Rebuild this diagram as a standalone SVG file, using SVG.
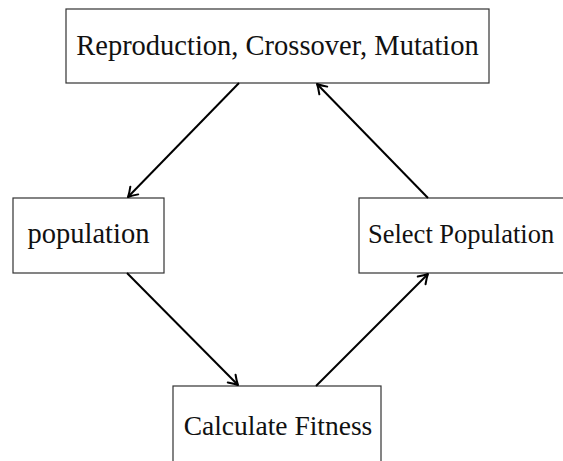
<svg xmlns="http://www.w3.org/2000/svg" width="563" height="461" viewBox="0 0 563 461">
<defs>
<style>
.box{fill:#fff;stroke:#333;stroke-width:1.2}
.lbl{font-family:"Liberation Serif","DejaVu Serif",serif;font-size:28.5px;fill:#111;text-anchor:middle}
.edge{stroke:#000;stroke-width:2;fill:none;marker-end:url(#ah)}
</style>
<marker id="ah" viewBox="-12 -7 14 14" markerWidth="14" markerHeight="14" refX="0" refY="0" orient="auto" markerUnits="userSpaceOnUse">
<path d="M-9,-5.5 Q-3.5,-1.5 0,0 Q-3.5,1.5 -9,5.5" fill="none" stroke="#000" stroke-width="2" stroke-linecap="round" stroke-linejoin="round"/>
</marker>
</defs>
<rect width="563" height="461" fill="#fff"/>
<g id="n-rcm"><rect class="box" x="66" y="9" width="423" height="74"/><text class="lbl" x="277.5" y="55">Reproduction, Crossover, Mutation</text></g>
<g id="n-pop"><rect class="box" x="13" y="198" width="151" height="75"/><text class="lbl" x="88.5" y="243">population</text></g>
<g id="n-sel"><rect class="box" x="359" y="198" width="215" height="75"/><text class="lbl" x="368" y="243" style="text-anchor:start;font-size:26.5px">Select Population</text></g>
<g id="n-fit"><rect class="box" x="173" y="386" width="208" height="90"/><text class="lbl" x="278" y="435" style="font-size:27.5px">Calculate Fitness</text></g>
<g id="edges">
<line class="edge" x1="239" y1="83" x2="128" y2="197"/>
<line class="edge" x1="127" y1="273" x2="238" y2="385"/>
<line class="edge" x1="316" y1="386" x2="428" y2="274"/>
<line class="edge" x1="428" y1="198" x2="317" y2="84"/>
</g>
</svg>
